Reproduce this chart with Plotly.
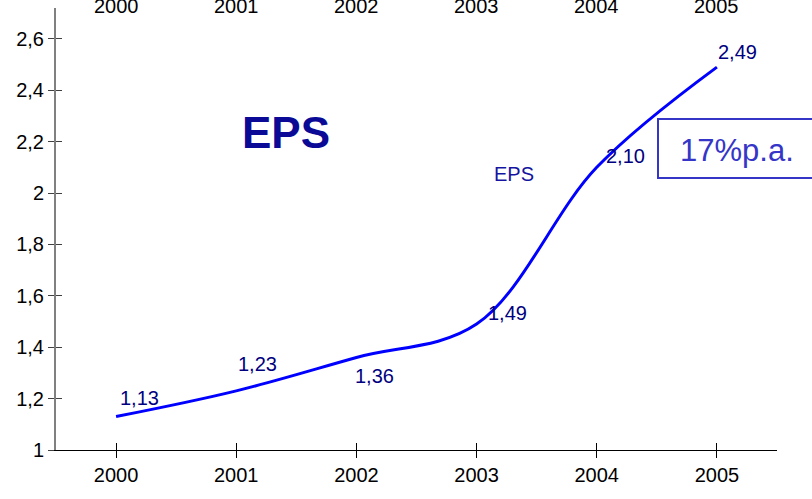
import plotly.graph_objects as go

# Earnings per share by year
years = ["2000", "2001", "2002", "2003", "2004", "2005"]
eps = [1.13, 1.23, 1.36, 1.49, 2.10, 2.49]
eps_labels = ["1,13", "1,23", "1,36", "1,49", "2,10", "2,49"]
y_ticks = [1.0, 1.2, 1.4, 1.6, 1.8, 2.0, 2.2, 2.4, 2.6]
y_tick_text = ["1", "1,2", "1,4", "1,6", "1,8", "2", "2,2", "2,4", "2,6"]
growth_text = "17%p.a."

# label offsets (pixels) relative to each point
label_dx = [23, 21, 18, 31, 29, 21]
label_dy = [19, 27, -19, 11, 11, 15]

SANS = "Liberation Sans, Arial, sans-serif"

x_idx = list(range(len(years)))

# plot area in pixels (used to place free text and the box)
L, R, T, B = 56, 777, 8, 450


def px_x(x):
    return (x - L) / (R - L)


def px_y(y):
    return (B - y) / (B - T)


fig = go.Figure()
fig.add_trace(go.Scatter(
    x=x_idx, y=eps, mode="lines",
    line=dict(color="#0000ff", width=3, shape="spline", smoothing=1.0),
    hoverinfo="skip", showlegend=False,
))
# invisible trace carrying the secondary axes (inside tick halves)
fig.add_trace(go.Scatter(x=x_idx, y=eps, xaxis="x2", yaxis="y2",
                         mode="lines", line=dict(width=0), opacity=0,
                         hoverinfo="skip", showlegend=False))

x_range = [-0.5, len(years) - 0.5]
y_range = [1.0, 2.72]

fig.update_layout(
    width=812, height=499,
    margin=dict(l=L, r=812 - R, t=T, b=499 - B),
    paper_bgcolor="white", plot_bgcolor="white",
    xaxis=dict(
        range=x_range, tickmode="array", tickvals=x_idx, ticktext=years,
        showgrid=False, zeroline=False, showline=True, linecolor="black", linewidth=1,
        ticks="outside", ticklen=7, tickcolor="black", tickson="boundaries",
        tickfont=dict(family=SANS, size=20, color="black"),
    ),
    xaxis2=dict(
        range=x_range, overlaying="x", side="bottom", anchor="y",
        tickmode="array", tickvals=x_idx, ticktext=[""] * len(years),
        showgrid=False, zeroline=False, showline=False,
        ticks="inside", ticklen=7, tickcolor="black", tickson="boundaries",
    ),
    yaxis=dict(
        range=y_range, tickmode="array", tickvals=y_ticks, ticktext=y_tick_text,
        showgrid=False, zeroline=False, showline=True, linecolor="#808080", linewidth=2,
        ticks="outside", ticklen=6, tickcolor="#404040",
        tickfont=dict(family=SANS, size=20, color="black"),
    ),
    yaxis2=dict(
        range=y_range, overlaying="y", side="left", anchor="x",
        tickmode="array", tickvals=y_ticks, ticktext=[""] * len(y_ticks),
        showgrid=False, zeroline=False, showline=False,
        ticks="inside", ticklen=6, tickcolor="#404040",
    ),
)

# value labels
for xi, v, lab, dx, dy in zip(x_idx, eps, eps_labels, label_dx, label_dy):
    fig.add_annotation(x=xi, y=v, xref="x", yref="y", text=lab, showarrow=False,
                       xshift=dx, yshift=dy, xanchor="center", yanchor="middle",
                       font=dict(family=SANS, size=20, color="#000080"))

# year labels along the top edge
for xi, yr in zip(x_idx, years):
    fig.add_annotation(x=xi, y=px_y(6), xref="x", yref="paper", text=yr, showarrow=False,
                       xanchor="center", yanchor="middle",
                       font=dict(family=SANS, size=20, color="black"))

# titles
fig.add_annotation(x=px_x(286), y=px_y(132), xref="paper", yref="paper",
                   text="<b>EPS</b>", showarrow=False, xanchor="center", yanchor="middle",
                   font=dict(family=SANS, size=44, color="#0a0a96"))
fig.add_annotation(x=px_x(514), y=px_y(174), xref="paper", yref="paper",
                   text="EPS", showarrow=False, xanchor="center", yanchor="middle",
                   font=dict(family=SANS, size=20, color="#1414a0"))

# growth box
fig.add_shape(type="rect", xref="paper", yref="paper",
              x0=px_x(658), x1=px_x(830), y0=px_y(178), y1=px_y(119),
              line=dict(color="#3535c8", width=2), fillcolor="white", layer="above")
fig.add_annotation(x=px_x(737), y=px_y(150), xref="paper", yref="paper",
                   text=growth_text, showarrow=False, xanchor="center", yanchor="middle",
                   font=dict(family=SANS, size=31, color="#3535c8"))

fig.write_html("out.html")
